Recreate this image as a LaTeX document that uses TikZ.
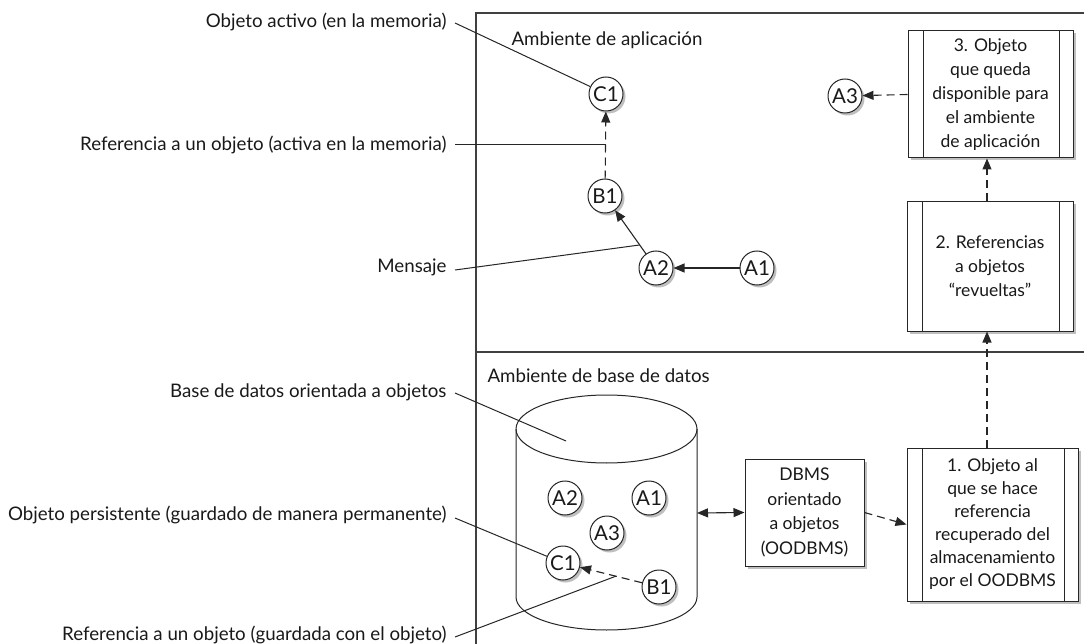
\documentclass[tikz,border=0pt]{standalone}
\usepackage{fontspec}
\setmainfont{Lato}
\usetikzlibrary{arrows.meta,shadows,calc}
\begin{document}
\begin{tikzpicture}[x=1pt,y=-1pt,line width=1pt,draw=black!85,
  every node/.style={font=\fontsize{18.7}{24}\selectfont,text=black!90},
  shad/.style={drop shadow={shadow xshift=2.5pt,shadow yshift=-2.5pt,fill=black!25,opacity=1}},
  obj/.style={circle,draw=black!85,fill=white,minimum size=34pt,inner sep=0pt,shad,font=\fontsize{20.5}{24}\selectfont},
  proc/.style={rectangle,draw=black!85,fill=white,align=center,inner sep=2pt,shad,font=\fontsize{17.5}{24}\selectfont,
    path picture={
      \draw[black!85,line width=1pt] ([xshift=15pt]path picture bounding box.north west) -- ([xshift=15pt]path picture bounding box.south west);
      \draw[black!85,line width=1pt] ([xshift=-14pt]path picture bounding box.north east) -- ([xshift=-14pt]path picture bounding box.south east);}},
  plainbox/.style={rectangle,draw=black!85,fill=white,align=center,inner sep=2pt,shad,font=\fontsize{17.5}{24.5}\selectfont},
  lbl/.style={anchor=east,inner sep=4pt},
  ttl/.style={anchor=west,inner sep=0pt},
  conn/.style={-{Triangle[length=11pt,width=9pt]},line width=1.1pt},
  dconn/.style={conn,dash pattern=on 8pt off 5pt},
  bconn/.style={{Triangle[length=11pt,width=9pt]}-{Triangle[length=11pt,width=9pt]},line width=1.1pt},
  lead/.style={line width=1pt}
]
\useasboundingbox (0,0) rectangle (1084,644);
% frame
\draw[line width=1.3pt,black!75] (1084,13) -- (476,13) -- (476,644);
\draw[line width=1.3pt,black!75] (476,352) -- (1084,352);

% titles
\node[ttl] (t1) at (511,40) {Ambiente de aplicación};
\node[ttl] (t2) at (487,376) {Ambiente de base de datos};

% application environment objects
\node[obj] (C1) at (606,94) {C1};
\node[obj] (B1) at (605,196) {B1};
\node[obj] (A2) at (656,268) {A2};
\node[obj] (A1) at (757,268) {A1};
\node[obj] (A3) at (845,96) {A3};

% process boxes
\node[proc,minimum width=165pt,minimum height=127pt] (P3) at (990.5,94.5)
  {3. Objeto\\que queda\\disponible para\\el ambiente\\de aplicación};
\node[proc,minimum width=166pt,minimum height=129pt] (P2) at (990,266.5)
  {2. Referencias\\a objetos\\“revueltas”};
\node[proc,minimum width=171pt,minimum height=153pt,font=\fontsize{17.5}{23}\selectfont] (P1) at (992.5,524.5)
  {1. Objeto al\\que se hace\\referencia\\recuperado del\\almacenamiento\\por el OODBMS};
\node[plainbox,minimum width=119pt,minimum height=107pt] (DB) at (804.5,512.5)
  {DBMS\\orientado\\a objetos\\(OODBMS)};

% cylinder
\draw[fill=white] (516,429) -- (516,597) arc[start angle=180,end angle=0,x radius=90.5,y radius=33] -- (697,429);
\draw (606.5,429) ellipse [x radius=90.5,y radius=34];
\coordinate (cylR) at (697,513);
\coordinate (cylIn) at (566,441);

% database objects
\node[obj] (dA2) at (565,498) {A2};
\node[obj] (dA1) at (649,498) {A1};
\node[obj] (dA3) at (607,533) {A3};
\node[obj] (dC1) at (563,563) {C1};
\node[obj] (dB1) at (659,587) {B1};

% connectors
\draw[conn] (A1) -- (A2);
\draw[conn] (A2) -- (B1);
\draw[dconn] (B1) -- (C1);
\draw[dconn] (P3.west) -- (A3);
\draw[dconn] ([xshift=-3pt]P2.north) -- ([xshift=-3.5pt]P3.south);
\draw[dconn] ([xshift=-5.5pt]P1.north) -- ([xshift=-3pt]P2.south);
\draw[dconn] (DB.east) -- (P1.west);
\draw[bconn] (cylR) -- (DB.west);
\draw[dconn] (dB1) -- (dC1);

% labels
\node[lbl] (L1) at (451,22) {Objeto activo (en la memoria)};
\node[lbl] (L2) at (451,145) {Referencia a un objeto (activa en la memoria)};
\node[lbl] (L3) at (451,267) {Mensaje};
\node[lbl] (L4) at (451,392) {Base de datos orientada a objetos};
\node[lbl] (L5) at (451,515) {Objeto persistente (guardado de manera permanente)};
\node[lbl] (L6) at (451,635) {Referencia a un objeto (guardada con el objeto)};

\coordinate (m2) at ($(B1)!0.5!(C1)$);
\coordinate (m3) at ($(A2)!0.32!(B1)$);
\coordinate (m6) at ($(dB1)!0.45!(dC1)$);
\draw[lead] ([xshift=4pt,yshift=-1pt]L1.east) -- (C1);
\draw[lead] ([xshift=4pt]L2.east) -- (m2);
\draw[lead] ([xshift=4pt,yshift=-3pt]L3.east) -- (m3);
\draw[lead] ([xshift=4pt,yshift=-1pt]L4.east) -- (cylIn);
\draw[lead] ([xshift=4pt,yshift=-3pt]L5.east) -- (dC1);
\draw[lead] ([xshift=4pt,yshift=-2pt]L6.east) -- (m6);
\end{tikzpicture}
\end{document}
